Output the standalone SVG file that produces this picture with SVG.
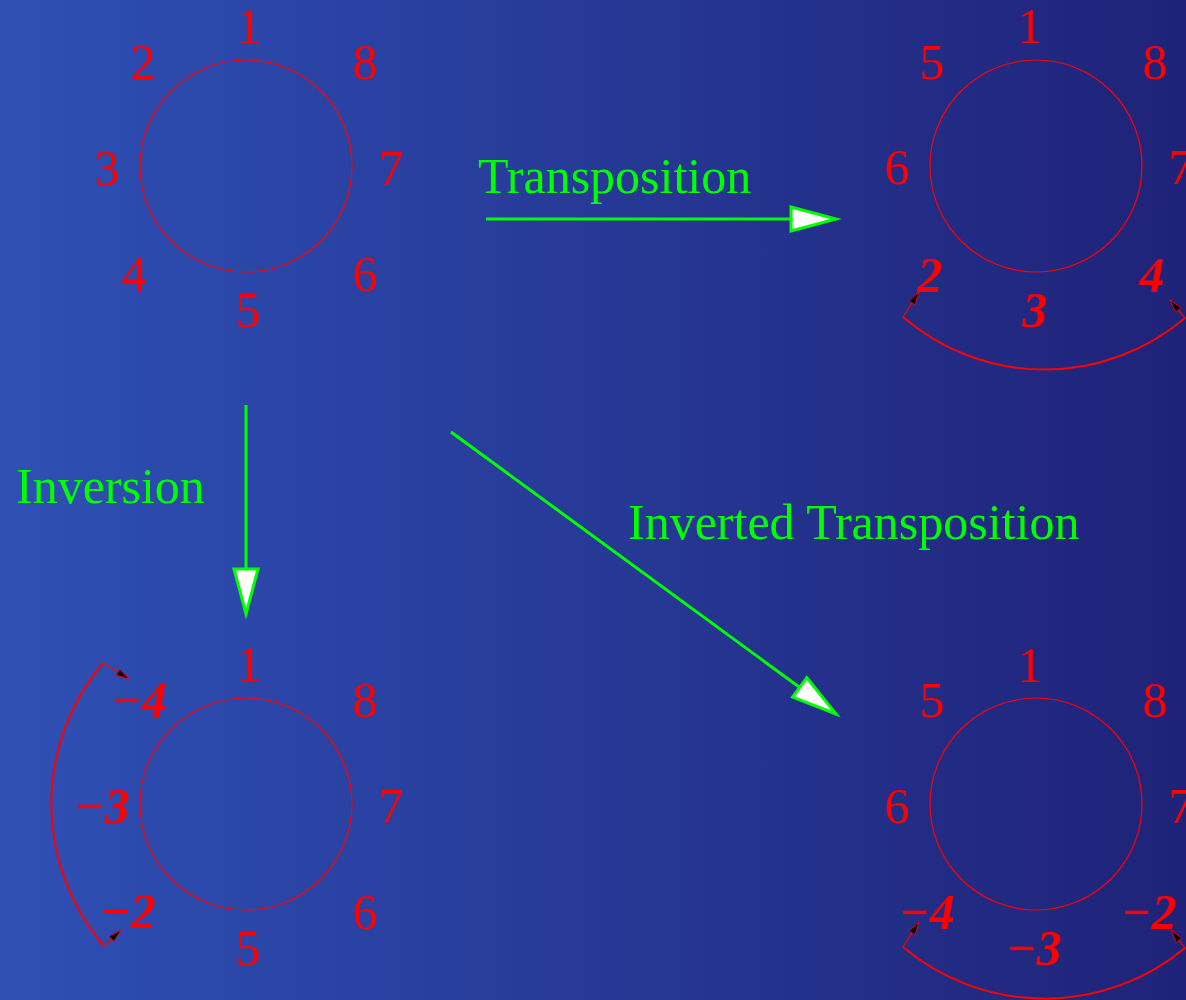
<svg xmlns="http://www.w3.org/2000/svg" width="1186" height="1000" viewBox="0 0 1186 1000">
  <defs>
    <linearGradient id="bg" x1="0" y1="0" x2="1" y2="0">
      <stop offset="0" stop-color="#2E50B5"/>
      <stop offset="1" stop-color="#1F2278"/>
    </linearGradient>
    <marker id="bigArrow" markerUnits="userSpaceOnUse" markerWidth="52" markerHeight="32" refX="45" refY="12" orient="auto" overflow="visible">
      <path d="M0,0 L45,12 L0,24 Z" fill="#FFFFFF" stroke="#00FF00" stroke-width="3" stroke-linejoin="miter"/>
    </marker>
    <marker id="smallArrow" markerUnits="userSpaceOnUse" markerWidth="16" markerHeight="10" refX="13" refY="3.5" orient="auto" overflow="visible">
      <path d="M0,0 L13,3.5 L0,7 Z" fill="#000000" stroke="#FF0000" stroke-width="0.8"/>
    </marker>
  </defs>
  <style>
    .ring { fill: none; stroke: #FF0000; stroke-width: 1.2; }
    .num { font-family: "Liberation Serif", "Times New Roman", serif; font-size: 50px; fill: #FF0000; text-anchor: middle; }
    .bi { font-family: "Liberation Serif", "Times New Roman", serif; font-size: 50px; fill: #FF0000; font-weight: bold; font-style: italic; text-anchor: middle; }
    .lbl { font-family: "Liberation Serif", "Times New Roman", serif; font-size: 50px; fill: #00FF00; }
    .flow { fill: none; stroke: #00FF00; stroke-width: 3; marker-end: url(#bigArrow); }
    .span { fill: none; stroke: #FF0000; stroke-width: 2; }
    .tick { fill: none; stroke: #FF0000; stroke-width: 1.2; marker-end: url(#smallArrow); }
  </style>

  <rect x="0" y="0" width="1186" height="1000" fill="url(#bg)"/>

  <!-- original row -->
  <g id="ring-original">
    <circle class="ring" cx="246" cy="166" r="106"/>
    <text class="num" x="249" y="43">1</text>
    <text class="num" x="143" y="79">2</text>
    <text class="num" x="107" y="185">3</text>
    <text class="num" x="134" y="291">4</text>
    <text class="num" x="248" y="327">5</text>
    <text class="num" x="365" y="291">6</text>
    <text class="num" x="391" y="185">7</text>
    <text class="num" x="365" y="79">8</text>
  </g>

  <g id="ring-transposed">
    <circle class="ring" cx="1036" cy="166" r="106"/>
    <text class="num" x="1030" y="43">1</text>
    <text class="num" x="932" y="79">5</text>
    <text class="num" x="897" y="184">6</text>
    <text class="num" x="1181" y="184">7</text>
    <text class="num" x="1155" y="79">8</text>
    <text class="bi" x="930" y="292">2</text>
    <text class="bi" x="1035" y="327">3</text>
    <text class="bi" x="1152" y="292">4</text>
    <path class="span" d="M903,317 A217,217 0 0 0 1185,318"/>
    <path class="tick" d="M903,317 L919,292"/>
    <path class="tick" d="M1185,318 L1170,300"/>
  </g>

  <g id="ring-inverted">
    <circle class="ring" cx="246" cy="804" r="106"/>
    <text class="num" x="249" y="681">1</text>
    <text class="num" x="365" y="717">8</text>
    <text class="num" x="391" y="823">7</text>
    <text class="num" x="365" y="929">6</text>
    <text class="num" x="248" y="965">5</text>
    <text class="bi" x="139" y="717">−4</text>
    <text class="bi" x="102" y="823">−3</text>
    <text class="bi" x="128" y="928">−2</text>
    <path class="span" d="M103,663 A218,218 0 0 0 104,946"/>
    <path class="tick" d="M103,663 L129,679"/>
    <path class="tick" d="M104,946 L121,930"/>
  </g>

  <g id="ring-inverted-transposed">
    <circle class="ring" cx="1036" cy="804" r="106"/>
    <text class="num" x="1030" y="682">1</text>
    <text class="num" x="932" y="717">5</text>
    <text class="num" x="897" y="823">6</text>
    <text class="num" x="1181" y="823">7</text>
    <text class="num" x="1155" y="717">8</text>
    <text class="bi" x="927" y="929">−4</text>
    <text class="bi" x="1034" y="965">−3</text>
    <text class="bi" x="1149" y="929">−2</text>
    <path class="span" d="M903,947 A220,220 0 0 0 1185,948"/>
    <path class="tick" d="M903,947 L919,922"/>
    <path class="tick" d="M1185,948 L1171,930"/>
  </g>

  <!-- operations between rings -->
  <g id="connectors">
    <path class="flow" d="M486,219 L836,219"/>
    <path class="flow" d="M246,405 L246,614"/>
    <path class="flow" d="M451,432 L836,714"/>
  </g>

  <g id="labels">
    <text class="lbl" x="478" y="193">Transposition</text>
    <text class="lbl" x="16" y="503">Inversion</text>
    <text class="lbl" x="628" y="539">Inverted Transposition</text>
  </g>
</svg>
